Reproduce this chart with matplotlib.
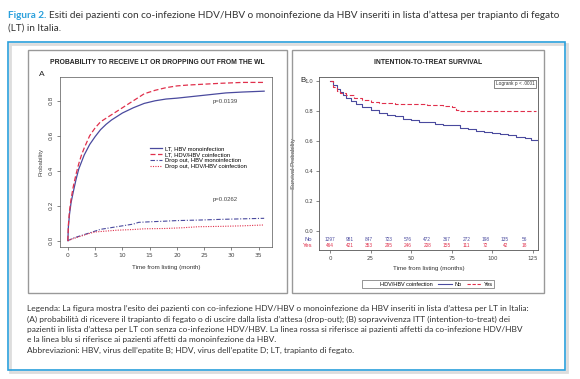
import numpy as np
import matplotlib.pyplot as plt
from matplotlib.patches import Rectangle
from matplotlib.lines import Line2D

# ---- dati ----
# Pannello A: incidenza cumulativa (mesi dall'inserimento in lista)
a_lt_mono_t = [0, 0.1, 0.3, 0.6, 1.0, 1.5, 2.0, 2.5, 3.0, 4.0, 5.0, 6.0, 7.0, 8.0, 10, 12, 14, 16, 18, 20, 23, 26, 29, 32, 36]
a_lt_mono_v = [0, 0.08, 0.15, 0.22, 0.28, 0.35, 0.41, 0.45, 0.49, 0.55, 0.595, 0.635, 0.665, 0.69, 0.73, 0.76, 0.785, 0.80, 0.81, 0.815, 0.825, 0.835, 0.845, 0.85, 0.855]
a_lt_co_t = [0, 0.1, 0.3, 0.6, 1.0, 1.5, 2.0, 2.5, 3.0, 4.0, 5.0, 6.0, 7.0, 8.0, 10, 12, 14, 16, 18, 20, 22, 25, 28, 32, 36]
a_lt_co_v = [0, 0.09, 0.17, 0.24, 0.31, 0.38, 0.44, 0.49, 0.53, 0.60, 0.645, 0.68, 0.70, 0.72, 0.76, 0.80, 0.84, 0.86, 0.875, 0.885, 0.89, 0.895, 0.90, 0.905, 0.905]
a_do_mono_t = [0, 1, 2, 3, 4, 5, 6, 8, 10, 12, 13, 15, 18, 20, 24, 28, 32, 36]
a_do_mono_v = [0, 0.015, 0.025, 0.035, 0.045, 0.055, 0.065, 0.075, 0.085, 0.095, 0.105, 0.108, 0.112, 0.115, 0.118, 0.122, 0.125, 0.128]
a_do_co_t = [0, 1, 2, 3, 4, 5, 7, 9, 12, 14, 18, 21, 24, 28, 32, 36]
a_do_co_v = [0, 0.012, 0.022, 0.032, 0.042, 0.05, 0.055, 0.06, 0.064, 0.068, 0.07, 0.074, 0.08, 0.082, 0.085, 0.09]
a_labels = ['LT, HBV monoinfection', 'LT, HDV/HBV coinfection',
            'Drop out, HBV monoinfection', 'Drop out, HDV/HBV coinfection']

# Pannello B: sopravvivenza ITT
b_no_t = [0, 2, 4, 6, 8, 10, 13, 16, 20, 25, 30, 35, 40, 45, 50, 55, 60, 65, 70, 75, 80, 85, 90, 95, 100, 105, 110, 115, 120, 124, 128]
b_no_v = [1.0, 0.975, 0.95, 0.93, 0.91, 0.89, 0.87, 0.85, 0.83, 0.81, 0.79, 0.775, 0.765, 0.75, 0.74, 0.73, 0.725, 0.715, 0.71, 0.705, 0.69, 0.68, 0.67, 0.66, 0.655, 0.645, 0.64, 0.625, 0.62, 0.61, 0.61]
b_yes_t = [0, 2, 4, 6, 10, 15, 20, 25, 30, 40, 50, 60, 70, 75, 78, 80, 90, 100, 110, 120, 127]
b_yes_v = [1.0, 0.96, 0.935, 0.92, 0.905, 0.89, 0.875, 0.86, 0.855, 0.85, 0.845, 0.84, 0.835, 0.825, 0.81, 0.80, 0.80, 0.80, 0.80, 0.80, 0.80]
risk_t = [0, 12, 24, 36, 48, 60, 72, 84, 96, 108, 120]
risk_no = [1297, 981, 847, 723, 576, 472, 367, 272, 198, 135, 56]
risk_yes = [464, 421, 353, 295, 246, 208, 155, 111, 72, 42, 18]

BLUE = '#4a4a9e'
RED = '#e0304c'
CYAN = '#2aa0dc'
TXT = '#333333'

W, H = 580, 379
fig = plt.figure(figsize=(W / 100, H / 100), dpi=100)


def box(x, y, w, h):  # pixel -> coordinate figura
    return [x / W, 1 - (y + h) / H, w / W, h / H]


def rect(x, y, w, h, **kw):
    fig.patches.append(Rectangle((x / W, 1 - (y + h) / H), w / W, h / H,
                                 transform=fig.transFigure, fill=False, **kw))


def ftext(x, y, s, **kw):
    return fig.text(x / W, 1 - y / H, s, **kw)


# titolo e cornici
pfont = 'Lato'
t1 = ftext(8, 15, 'Figura 2.', color=CYAN, fontsize=7.2, fontweight='bold', family=pfont, va='center')
fig.canvas.draw()
x_end = t1.get_window_extent().x1
fig.text(x_end / W + 3 / W, 1 - 15 / H,
         'Esiti dei pazienti con co-infezione HDV/HBV o monoinfezione da HBV inseriti in lista d\u2019attesa per trapianto di fegato',
         color=TXT, fontsize=7.2, family=pfont, va='center')
ftext(8, 28, '(LT) in Italia.', color=TXT, fontsize=7.2, family=pfont, va='center')

rect(10, 44, 557, 328, edgecolor='#dddddd', linewidth=2.0)
rect(8, 42, 557, 328, edgecolor=CYAN, linewidth=1.2)
rect(28, 50, 259, 243, edgecolor='#999999', linewidth=1.0)
rect(292, 50, 252, 243, edgecolor='#999999', linewidth=1.0)

caption = ['Legenda: La figura mostra l\u2019esito dei pazienti con co-infezione HDV/HBV o monoinfezione da HBV inseriti in lista d\u2019attesa per LT in Italia:',
           '(A) probabilit\u00e0 di ricevere il trapianto di fegato o di uscire dalla lista d\u2019attesa (drop-out); (B) sopravvivenza ITT (intention-to-treat) dei',
           'pazienti in lista d\u2019attesa per LT con senza co-infezione HDV/HBV. La linea rossa si riferisce ai pazienti affetti da co-infezione HDV/HBV',
           'e la linea blu si riferisce ai pazienti affetti da monoinfezione da HBV.',
           'Abbreviazioni: HBV, virus dell\u2019epatite B; HDV, virus dell\u2019epatite D; LT, trapianto di fegato.']
for i, line in enumerate(caption):
    ftext(27, 309 + i * 10.3, line, color=TXT, fontsize=6.0, family=pfont, va='center')

# ---- pannello A ----
cfont = 'Liberation Sans'
axA = fig.add_axes(box(60, 77, 212, 170))
axA.plot(a_lt_mono_t, a_lt_mono_v, color=BLUE, lw=0.9, ls='-', label=a_labels[0])
axA.plot(a_lt_co_t, a_lt_co_v, color=RED, lw=0.9, ls=(0, (4, 2)), label=a_labels[1])
axA.plot(a_do_mono_t, a_do_mono_v, color=BLUE, lw=0.8, ls=(0, (4, 1.5, 1, 1.5)), label=a_labels[2])
axA.plot(a_do_co_t, a_do_co_v, color=RED, lw=0.8, ls=(0, (1, 1.2)), label=a_labels[3])
axA.set_xlim(-1.44, 37.44)
axA.set_ylim(-0.036, 0.936)
axA.set_xticks(range(0, 36, 5))
axA.set_yticks([0, 0.2, 0.4, 0.6, 0.8])
axA.set_yticklabels(['0.0', '0.2', '0.4', '0.6', '0.8'], rotation=90, va='center')
axA.tick_params(labelsize=4.3, length=2.5, width=0.5, color='#555555', labelcolor='#444444', pad=2)
for s in axA.spines.values():
    s.set_linewidth(0.5)
    s.set_color('#555555')
axA.set_xlabel('Time from listing (month)', fontsize=4.5, family=cfont, color='#333333', labelpad=5)
axA.set_ylabel('Probability', fontsize=4.3, family=cfont, color='#444444', labelpad=4)
axA.text(0.72, 0.85, 'p=0.0139', transform=axA.transAxes, fontsize=4.3, color='#444444', family=cfont)
axA.text(0.72, 0.27, 'p=0.0262', transform=axA.transAxes, fontsize=4.3, color='#444444', family=cfont)
axA.legend(loc='upper left', bbox_to_anchor=(0.41, 0.61), frameon=False,
           handlelength=2.0, handletextpad=0.6, labelspacing=0.15, borderpad=0,
           prop={'family': cfont, 'size': 4.2})
ftext(157, 63, 'PROBABILITY TO RECEIVE LT OR DROPPING OUT FROM THE WL', ha='center', va='center',
      fontsize=4.85, fontweight='bold', family=cfont, color='#222222')
ftext(42, 75, 'A', ha='center', va='center', fontsize=6, family=cfont, color='#222222')

# ---- pannello B ----
axB = fig.add_axes(box(319, 77, 219, 173))
axB.step(b_no_t, b_no_v, where='post', color=BLUE, lw=0.8)
axB.step(b_yes_t, b_yes_v, where='post', color=RED, lw=0.8, ls=(0, (4, 2)))
axB.set_xlim(-6.8, 128.3)
axB.set_ylim(-0.127, 1.027)
axB.set_xticks([0, 25, 50, 75, 100, 125])
axB.set_yticks([0, 0.2, 0.4, 0.6, 0.8, 1.0])
axB.set_yticklabels(['0.0', '0.2', '0.4', '0.6', '0.8', '1.0'])
axB.tick_params(labelsize=4.0, length=2.0, width=0.5, color='#555555', labelcolor='#444444', pad=2)
for s in axB.spines.values():
    s.set_linewidth(0.6)
    s.set_color('#555555')
for t, n, y in zip(risk_t, risk_no, risk_yes):
    axB.text(t, -0.06, str(n), ha='center', va='center', fontsize=3.4, color=BLUE, family=cfont)
    axB.text(t, -0.1, str(y), ha='center', va='center', fontsize=3.4, color=RED, family=cfont)
axB.text(-0.03, -0.06, 'No', transform=axB.get_yaxis_transform(), ha='right', va='center',
         fontsize=4.2, color=BLUE, family=cfont)
axB.text(-0.03, -0.1, 'Yes', transform=axB.get_yaxis_transform(), ha='right', va='center',
         fontsize=4.2, color=RED, family=cfont)
axB.set_xlabel('Time from listing (months)', fontsize=4.5, family=cfont, color='#333333', labelpad=4)
axB.set_ylabel('Survival Probability', fontsize=4.3, family=cfont, color='#444444', labelpad=6)
axB.text(0.985, 0.975, 'Logrank p < .0001', transform=axB.transAxes, ha='right', va='top',
         fontsize=3.4, family=cfont, color='#333333',
         bbox=dict(boxstyle='square,pad=0.35', fc='white', ec='#555555', lw=0.5))
ftext(428, 63, 'INTENTION-TO-TREAT SURVIVAL', ha='center', va='center',
      fontsize=4.85, fontweight='bold', family=cfont, color='#222222')
ftext(303, 80, 'B', ha='center', va='center', fontsize=5.6, family=cfont, color='#222222')

# legenda in basso del pannello B
handles = [Line2D([], [], color='none'),
           Line2D([], [], color=BLUE, lw=0.8),
           Line2D([], [], color=RED, lw=0.8, ls=(0, (3, 1.5)))]
legB = fig.legend(handles, ['HDV/HBV coinfection', 'No', 'Yes'], loc='center',
                  bbox_to_anchor=(428 / W, 1 - 284 / H), ncol=3,
                  prop={'family': cfont, 'size': 4.0}, frameon=True, fancybox=False,
                  edgecolor='#444444', handlelength=2.6, handletextpad=0.5,
                  columnspacing=0.8, borderpad=0.3)
legB.get_frame().set_linewidth(0.5)

fig.savefig('out.png', dpi=100)
